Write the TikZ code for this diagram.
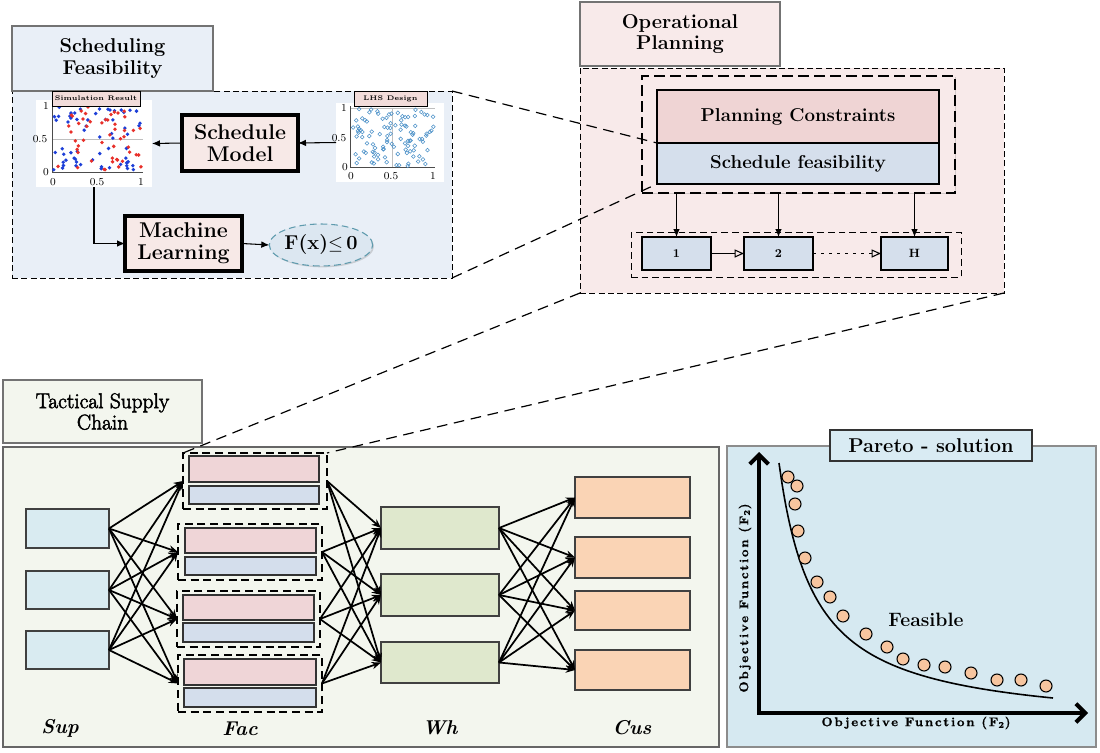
\documentclass[tikz,border=0pt]{standalone}
\usepackage{fontspec}
\usetikzlibrary{arrows.meta,fit,shadows,shapes.geometric,calc}
\definecolor{schedbg}{HTML}{E9EFF7}
\definecolor{pinkbox}{HTML}{F7E9E7}
\definecolor{labelpink}{HTML}{F2DCDA}
\definecolor{ellfill}{HTML}{DCE7F1}
\definecolor{elldraw}{HTML}{5F9BAE}
\definecolor{opbg}{HTML}{F8EAEA}
\definecolor{pcfill}{HTML}{EFD4D4}
\definecolor{sffill}{HTML}{D5DFEC}
\definecolor{tacbg}{HTML}{F3F6EE}
\definecolor{supfill}{HTML}{D9EBF1}
\definecolor{facpink}{HTML}{EFD5D7}
\definecolor{facblue}{HTML}{D4DEEC}
\definecolor{whfill}{HTML}{DFE8CD}
\definecolor{cusfill}{HTML}{FAD4B5}
\definecolor{parbg}{HTML}{D6E9F1}
\definecolor{partitle}{HTML}{D9EBF3}
\definecolor{dotfill}{HTML}{F7C59F}
\definecolor{simred}{HTML}{E8302A}
\definecolor{simblue}{HTML}{1D3FD8}
\definecolor{lhsblue}{HTML}{4A90C8}
\newfontfamily\tacfont[FakeBold=2.5]{Latin Modern Roman}
\newfontfamily\axfont[LetterSpace=14,FakeBold=0.8]{Latin Modern Roman}
\newfontfamily\plfont[LetterSpace=3]{Latin Modern Roman}
\begin{document}
\begin{tikzpicture}[x=0.75pt,y=-0.75pt,
  every node/.style={inner sep=0pt,outer sep=0pt},
  shd/.style={drop shadow={shadow xshift=1pt,shadow yshift=-1pt,opacity=.3}},
  titlebox/.style={draw=black!55,line width=1.5pt,shd},
  titletext/.style={align=center,font=\fontsize{15}{16}\selectfont\bfseries},
  panel/.style={draw,dash pattern=on 4.5pt off 2.5pt,line width=.6pt},
  bigbox/.style={draw,line width=2.4pt,fill=pinkbox,shd},
  bigtext/.style={align=center,font=\fontsize{16}{16.5}\selectfont\bfseries},
  plotlabel/.style={draw,line width=.7pt,fill=labelpink,shd},
  plottext/.style={font=\plfont\fontsize{5}{6}\selectfont\bfseries},
  tick/.style={font=\fontsize{8}{9}\selectfont},
  sarr/.style={-{Latex[length=6pt,width=5pt]},line width=.8pt},
  tarr/.style={-{Stealth[length=7pt,width=5.5pt]},line width=1.3pt},
  conn/.style={dash pattern=on 8pt off 5pt,line width=.9pt},
  opbox/.style={draw,line width=.8pt,fill=sffill,shd},
  optext/.style={font=\fontsize{9}{10}\selectfont\bfseries},
  tbox/.style={draw=black!75,line width=.9pt,shd},
  facbox/.style={draw=black!80,line width=1.6pt,shd},
  facgrp/.style={draw,dash pattern=on 6pt off 3.5pt,line width=.8pt},
  stage/.style={font=\fontsize{15}{16}\selectfont\bfseries\itshape},
  axlab/.style={font=\axfont\fontsize{9.5}{11}\selectfont\bfseries},
  dot/.style={circle,draw,line width=.8pt,fill=dotfill,minimum size=9pt}
]
\useasboundingbox (0,0) rectangle (1100,753);

% ================= Scheduling Feasibility =================
\node[panel,fill=schedbg,fit={(12,91) (452,278)}] (schedpanel) {};
\node[titlebox,fill=schedbg,fit={(12,26) (213,91)}] (schedtitle) {};
\node[titletext] (schedtitlet) at (schedtitle.center) {Scheduling\\Feasibility};

% simulation plot
\node[fill=white,fit={(36,100) (152,187)}] (simplot) {};
\draw[black!25,line width=.5pt] (52,139) -- (143,139);
\draw[black!70,line width=.6pt] (52,104) -- (52,172) -- (143,172);
\pgfmathsetseed{17}
\foreach \i in {1,...,62}{
  \pgfmathsetmacro{\rx}{53+88*rnd}\pgfmathsetmacro{\ry}{171-64*rnd}
  \fill[simblue] (\rx,\ry) circle (1.9);}
\foreach \i in {1,...,50}{
  \pgfmathsetmacro{\rx}{53+88*rnd}\pgfmathsetmacro{\ry}{171-64*rnd}
  \fill[simred] (\rx,\ry) circle (1.9);}
\node[tick] (sy1) at (46,106) {1};
\node[tick] (sy2) at (40,139) {0.5};
\node[tick] (sy3) at (46,172) {0};
\node[tick] (sx1) at (53,182) {0};
\node[tick] (sx2) at (97,182) {0.5};
\node[tick] (sx3) at (141,182) {1};
\node[plotlabel,fit={(52,91) (140,106)}] (simlabel) {};
\node[plottext] (simlabelt) at (simlabel.center) {Simulation Result};

% LHS plot
\node[fill=white,fit={(336,103) (444,182)}] (lhsplot) {};
\draw[black!25,line width=.5pt] (350,108) -- (435,108) (392,108) -- (392,167);
\draw[black!70,line width=.6pt] (350,106) -- (350,167) -- (435,167);
\pgfmathsetseed{5}
\foreach \i in {1,...,105}{
  \pgfmathsetmacro{\rx}{352+82*rnd}\pgfmathsetmacro{\ry}{166-57*rnd}
  \draw[lhsblue,line width=.4pt] (\rx,\ry) circle (1.9);}
\node[tick] (ly1) at (344,108) {1};
\node[tick] (ly2) at (339,138) {0.5};
\node[tick] (ly3) at (345,167) {0};
\node[tick] (lx1) at (351,176) {0};
\node[tick] (lx2) at (391,176) {0.5};
\node[tick] (lx3) at (433,176) {1};
\node[plotlabel,fit={(354,91) (427,106)}] (lhslabel) {};
\node[plottext] (lhslabelt) at (lhslabel.center) {LHS Design};

\node[bigbox,fit={(182,115) (298,171)}] (sm) {};
\node[bigtext] (smt) at (sm.center) {Schedule\\Model};
\node[bigbox,fit={(125,216) (242,271)}] (ml) {};
\node[bigtext] (mlt) at (ml.center) {Machine\\Learning};
\node[ellipse,draw=elldraw,dash pattern=on 5pt off 3pt,line width=.8pt,fill=ellfill,
  minimum width=72.75pt,minimum height=31.5pt,font=\fontsize{15}{16}\selectfont\bfseries,shd]
  (ell) at (321,245) {F(x)$\leq$\,0};

\draw[sarr] (lhsplot.west) -- (sm.east);
\draw[sarr] (sm.west) -- (simplot.east);
\draw[sarr] (simplot.south) |- (ml.west);
\draw[sarr] (ml.east) -- (ell.west);

% ================= Operational Planning =================
\node[panel,fill=opbg,fit={(580,68) (1004,293)}] (oppanel) {};
\node[titlebox,fill=opbg,fit={(580,2) (780,66)}] (optitle) {};
\node[titletext] (optitlet) at (optitle.center) {Operational\\Planning};
\node[draw,fill=opbg,dash pattern=on 8pt off 4pt,line width=1.1pt,fit={(642,76) (955,193)},shd] (inner) {};
\node[draw,line width=.8pt,fill=pcfill,fit={(657,90) (939,143)}] (pc) {};
\node[font=\fontsize{14}{15}\selectfont\bfseries] (pct) at (pc.center) {Planning Constraints};
\node[draw,line width=.8pt,fill=sffill,fit={(657,143) (939,184)}] (sf) {};
\node[font=\fontsize{14}{15}\selectfont\bfseries] (sft) at (sf.center) {Schedule feasibility};
\node[draw,dash pattern=on 5pt off 3pt,line width=.7pt,fit={(631,232) (961,277)}] (hgroup) {};
\node[opbox,fit={(642,237) (711,270)}] (b1) {};
\node[optext] (b1t) at (b1.center) {1};
\node[opbox,fit={(744,237) (813,270)}] (b2) {};
\node[optext] (b2t) at (b2.center) {2};
\node[opbox,fit={(881,237) (948,270)}] (bh) {};
\node[optext] (bht) at (bh.center) {H};
\draw[sarr] (b1.north |- inner.south) -- (b1.north);
\draw[sarr] (b2.north |- inner.south) -- (b2.north);
\draw[sarr] (bh.north |- inner.south) -- (bh.north);
\draw[-{Triangle[open,length=7pt,width=6pt]},line width=.8pt] (b1) -- (b2);
\draw[-{Triangle[open,length=7pt,width=6pt]},line width=.8pt,dash pattern=on 2pt off 4pt] (b2) -- (bh);

% ================= Tactical Supply Chain =================
\node[draw=black!60,line width=.8pt,fill=tacbg,fit={(3,447) (719,747)}] (tacpanel) {};
\node[titlebox,fill=tacbg,fit={(3,380) (202,443)}] (tactitle) {};
\node[align=center,font=\tacfont\fontsize{16}{16}\selectfont]
  (tactitlet) at (tactitle.center) {Tactical Supply\\Chain};

\foreach \n/\ya/\yb in {1/509/548,2/571/609,3/631/669}
  \node[tbox,fill=supfill,fit={(26,\ya) (109,\yb)}] (s\n) {};
\foreach \n/\xa/\ya/\xb/\yb/\pxa/\pxb/\pya/\pyb/\bya/\byb in {
   1/183/453/327/509/189/319/456/482/486/504,
   2/178/524/322/580/185/316/528/553/557/575,
   3/177/591/320/647/183/314/595/620/623/642,
   4/178/655/322/712/184/316/659/685/688/707}{
  \node[facgrp,fit={(\xa,\ya) (\xb,\yb)}] (f\n) {};
  \node[facbox,fill=facpink,fit={(\pxa,\pya) (\pxb,\pyb)}] (f\n a) {};
  \node[facbox,fill=facblue,fit={(\pxa,\bya) (\pxb,\byb)}] (f\n b) {};
}
\foreach \n/\ya/\yb in {1/507/549,2/574/616,3/642/683}
  \node[tbox,fill=whfill,fit={(381,\ya) (499,\yb)}] (w\n) {};
\foreach \n/\ya/\yb in {1/477/518,2/537/578,3/591/630,4/650/690}
  \node[tbox,fill=cusfill,fit={(575,\ya) (690,\yb)}] (c\n) {};

\foreach \s in {1,2,3}{\foreach \f in {1,...,4}{\draw[tarr] (s\s.east) -- (f\f.west);}}
\foreach \f in {1,...,4}{\foreach \w in {1,2,3}{\draw[tarr] (f\f.east) -- (w\w.west);}}
\foreach \w in {1,2,3}{\foreach \c in {1,...,4}{\draw[tarr] (w\w.east) -- (c\c.west);}}

\node[stage] (lsup) at (60,728) {Sup};
\node[stage] (lfac) at (240,729) {Fac};
\node[stage] (lwh) at (440,728) {Wh};
\node[stage] (lcus) at (632,728) {Cus};

% ================= Pareto =================
\node[draw=black!45,line width=.8pt,fill=parbg,fit={(727,446) (1096,747)}] (parpanel) {};
\node[draw=black!80,line width=1.3pt,fill=partitle,shd,fit={(830,430) (1032,461)}] (partitle) {};
\node[font=\fontsize{15}{16}\selectfont\bfseries] (partitlet) at (partitle.center) {Pareto - solution};
\coordinate (origin) at (759,713);
\coordinate (ytop) at (759,452);
\coordinate (xend) at (1088,713);
\draw[line width=3pt,{Straight Barb[length=7pt,width=14pt]}-{Straight Barb[length=7pt,width=14pt]}]
  (ytop) -- (origin) -- (xend);
\draw[line width=1.2pt] plot[domain=779:1053,samples=80,smooth] (\x,{728.8-9542/(\x-743.1)});
\foreach \px/\py in {788/477,797/486,795/504,798/531,805/558,817/582,830/597,843/616,866/634,
  887/647,903/659,924/665,945/667,971/673,997/680,1021/680,1046/686}
  \node[dot] at (\px,\py) {};
\node[font=\fontsize{14.5}{16}\selectfont\bfseries] (feas) at (926,620) {Feasible};
\node[axlab] (xlab) at (916,723) {Objective Function (F\textsubscript{2})};
\node[axlab,rotate=90] (ylab) at (745,598) {Objective Function (F\textsubscript{2})};

% ================= Zoom connectors =================
\draw[conn] (schedpanel.north east) -- (sf.north west);
\draw[conn] (schedpanel.south east) -- (sf.south west);
\draw[conn] (oppanel.south west) -- (f1.north west);
\draw[conn] (oppanel.south east) -- (f1.north east);
\end{tikzpicture}
\end{document}
